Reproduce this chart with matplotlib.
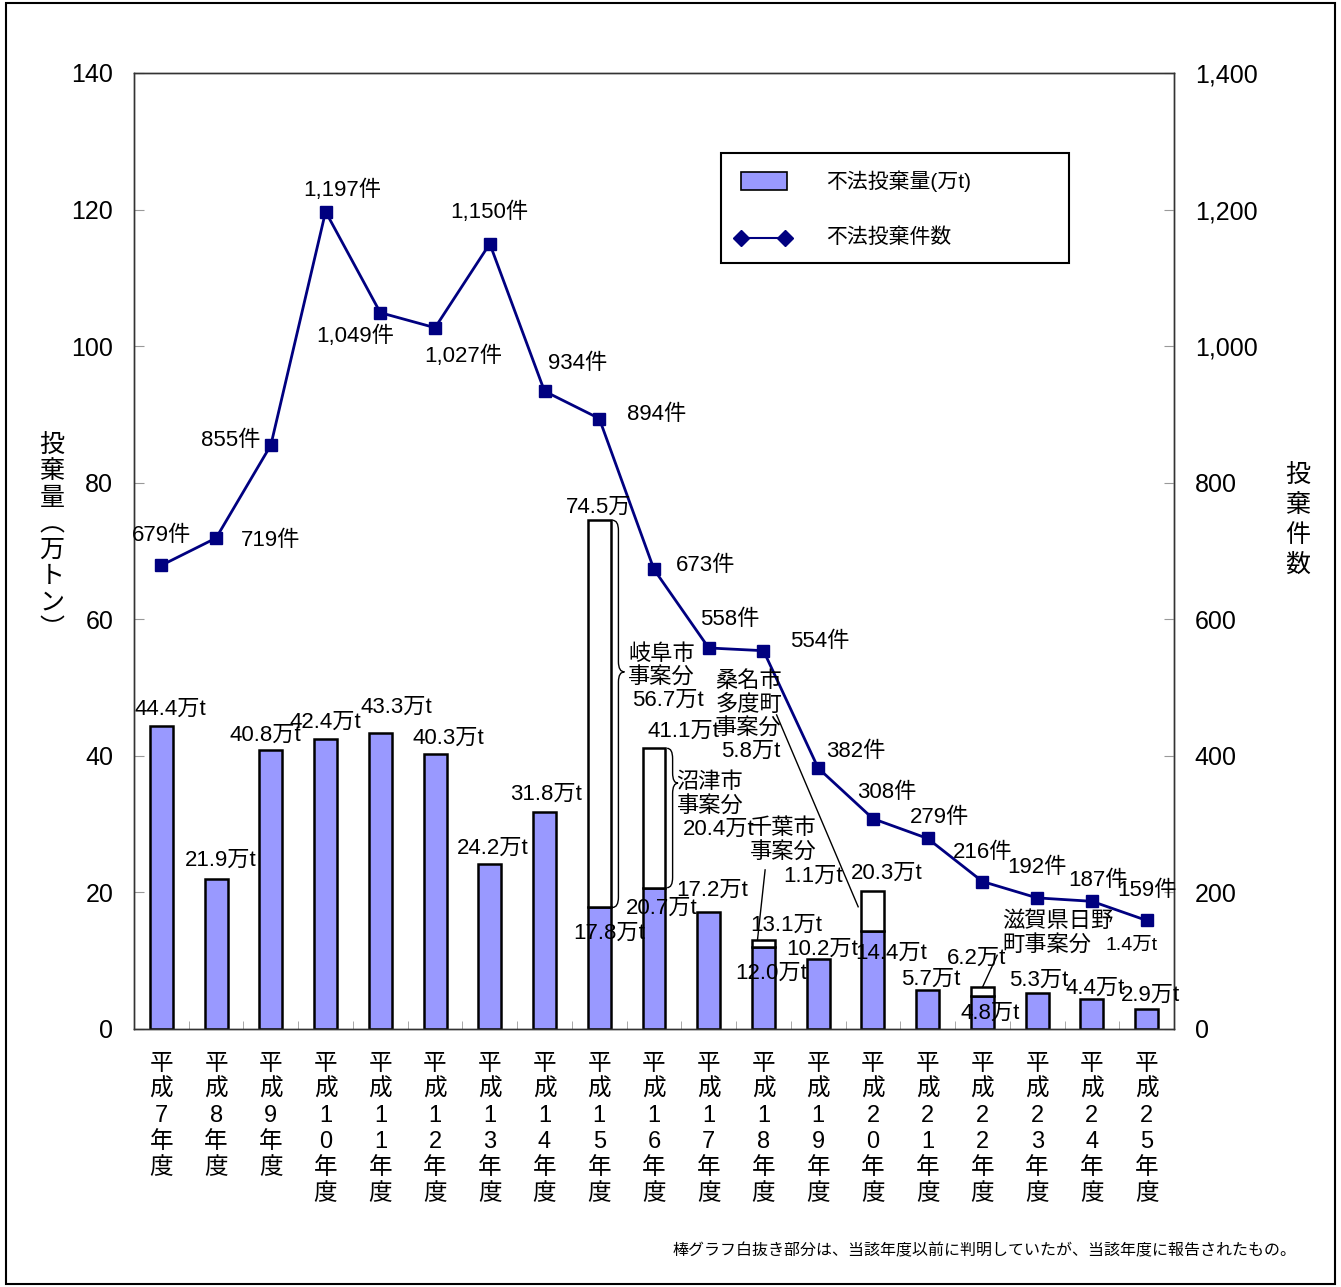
import numpy as np
import matplotlib
matplotlib.use('Agg')
import matplotlib.pyplot as plt
from matplotlib.patches import Rectangle, PathPatch
from matplotlib.path import Path
from matplotlib.lines import Line2D

plt.rcParams['font.family'] = ['Liberation Sans', 'Noto Sans CJK JP']

years = ['7', '8', '9', '10', '11', '12', '13', '14', '15', '16',
         '17', '18', '19', '20', '21', '22', '23', '24', '25']
amount = [44.4, 21.9, 40.8, 42.4, 43.3, 40.3, 24.2, 31.8, 17.8, 20.7,
          17.2, 12.0, 10.2, 14.4, 5.7, 4.8, 5.3, 4.4, 2.9]
amount_late = [0, 0, 0, 0, 0, 0, 0, 0, 56.7, 20.4,
               0, 1.1, 0, 5.8, 0, 1.4, 0, 0, 0]
cases = [679, 719, 855, 1197, 1049, 1027, 1150, 934, 894, 673,
         558, 554, 382, 308, 279, 216, 192, 187, 159]

bar_color = '#9999ff'
line_color = '#000080'

fig = plt.figure(figsize=(13.41, 12.87), dpi=100)
ax = fig.add_axes([134 / 1341, 1 - 1029 / 1287, 1040 / 1341, 956 / 1287])
ax2 = ax.twinx()

x = np.arange(len(years))
ax.bar(x, amount, width=0.42, color=bar_color, edgecolor='black', linewidth=1.8, zorder=2)
ax.bar(x, amount_late, width=0.42, bottom=amount, color='white', edgecolor='black',
       linewidth=1.8, zorder=2)
for i, v in enumerate(amount_late):
    if v == 0:
        # hide empty stacked bars
        ax.patches[len(years) + i].set_visible(False)

ax2.plot(x, cases, color=line_color, lw=2, marker='s', ms=8, zorder=3)

ax.set_xlim(-0.5, len(years) - 0.5)
ax.set_ylim(0, 140)
ax2.set_ylim(0, 1400)
ax.set_yticks(range(0, 141, 20))
ax2.set_yticks(range(0, 1401, 200))
ax2.set_yticklabels([f'{v:,}' for v in range(0, 1401, 200)])

xlabels = ['平\n成\n' + '\n'.join(y) + '\n年\n度' for y in years]
ax.set_xticks(x)
ax.set_xticklabels(xlabels, fontsize=17, va='top', linespacing=1.24)
ax.set_xticks(np.arange(-0.5, len(years), 1), minor=True)
ax.tick_params(axis='x', which='major', length=0, pad=17)
ax.tick_params(axis='x', which='minor', direction='in', length=6, color='#999999')
ax.tick_params(axis='y', direction='in', length=7, color='#999999', labelsize=18, pad=15)
ax2.tick_params(axis='y', direction='in', length=7, color='#999999', labelsize=18, pad=15)
for a in (ax, ax2):
    for s in a.spines.values():
        s.set_color('#333333')
        s.set_linewidth(1.0)

fig.text(52 / 1341, 1 - 537 / 1287, '投\n棄\n量\n︵\n万\nト\nン\n︶', fontsize=18,
         ha='center', va='center', linespacing=1.12)
fig.text(1298 / 1341, 1 - 520 / 1287, '投\n棄\n件\n数', fontsize=18,
         ha='center', va='center', linespacing=1.3)

T = ax.transData
fs = 16


def lab(xp, yp, s, **kw):
    kw.setdefault('ha', 'center')
    kw.setdefault('va', 'center')
    kw.setdefault('fontsize', fs)
    ax2.text(xp, yp, s, transform=T, **kw)


# case count labels
case_pos = [(0, 72.3), (1.99, 71.6), (1.26, 86.2), (3.31, 122.8), (3.54, 101.5),
            (5.52, 98.5), (5.99, 119.6), (7.6, 97.5), (9.04, 90.0), (9.94, 67.9),
            (10.38, 59.9), (12.02, 56.7), (12.68, 40.6), (13.26, 34.6), (14.21, 30.9),
            (15.0, 25.9), (15.99, 23.7), (17.12, 21.8), (18.01, 20.3)]
for i, (px, py) in enumerate(case_pos):
    lab(px, py, f'{cases[i]:,}件')

# amount labels
amt_pos = [(0.16, 46.8), (1.08, 24.7), (1.9, 43.0), (3.0, 44.9), (4.29, 47.1),
           (5.24, 42.6), (6.05, 26.5), (7.02, 34.3), (8.18, 14.05), (9.15, 17.7),
           (10.07, 20.3), (11.14, 8.2), (12.08, 11.6), (13.34, 11.1), (14.05, 7.3),
           (15.14, 2.3), (16.02, 7.2), (17.06, 6.0), (18.07, 5.0)]
for i, (px, py) in enumerate(amt_pos):
    lab(px, py, f'{amount[i]:.1f}万t')

totals = [a + b for a, b in zip(amount, amount_late)]
lab(7.98, 76.4, f'{totals[8]:.1f}万')
lab(9.53, 43.6, f'{totals[9]:.1f}万t')
lab(11.42, 15.2, f'{totals[11]:.1f}万t')
lab(13.26, 22.8, '20.3万t')
lab(14.9, 10.4, f'{totals[15]:.1f}万t')

# case notes
lab(8.53, 53.2, '岐阜市\n事案分', ha='left', linespacing=1.15)
lab(9.26, 48.2, f'{amount_late[8]:.1f}万t')
lab(9.41, 34.4, '沼津市\n事案分', ha='left', linespacing=1.15)
lab(10.18, 29.3, f'{amount_late[9]:.1f}万t')
lab(11.36, 27.6, '千葉市\n事案分', linespacing=1.15)
lab(11.91, 22.3, f'{amount_late[11]:.1f}万t')
lab(10.12, 47.4, '桑名市\n多度町\n事案分', ha='left', linespacing=1.15)
lab(10.76, 40.7, f'{amount_late[13]:.1f}万t')
lab(15.36, 15.7, '滋賀県日野', ha='left')
lab(15.36, 12.3, '町事案分', ha='left')
lab(17.24, 12.2, f'{amount_late[15]:.1f}万t', ha='left', fontsize=14)

for (x0, y0, x1, y1) in [(11.03, 23.3, 10.89, 13.0), (11.24, 46.0, 12.73, 17.9),
                         (15.27, 10.8, 15.0, 6.1)]:
    ax2.add_line(Line2D([x0, x1], [y0, y1], transform=T, color='black', lw=1))


def brace(x0, w, ytop, ybot, ytip):
    xm = x0 + w / 2
    r = 1.5
    verts = [(x0, ytop), (xm, ytop), (xm, ytop - r),
             (xm, ytip + r), (xm, ytip), (x0 + w, ytip),
             (xm, ytip), (xm, ytip - r),
             (xm, ybot + r), (xm, ybot), (x0, ybot)]
    codes = [Path.MOVETO, Path.CURVE3, Path.CURVE3,
             Path.LINETO, Path.CURVE3, Path.CURVE3,
             Path.CURVE3, Path.CURVE3,
             Path.LINETO, Path.CURVE3, Path.CURVE3]
    ax2.add_patch(PathPatch(Path(verts, codes), transform=T, fill=False, lw=1, color='black'))


brace(8.24, 0.22, totals[8], amount[8], 52.3)
brace(9.24, 0.2, totals[9], amount[9], 36.0)

# legend drawn by hand
AT = ax.transAxes
ax2.add_patch(Rectangle((0.5644, 0.801), 0.3346, 0.115, transform=AT, fill=True,
                        facecolor='white', edgecolor='black', lw=1.5, zorder=5))
ax2.add_patch(Rectangle(((741 - 134) / 1040, (1029 - 190) / 956), 46 / 1040, 18 / 956,
                        transform=AT, facecolor=bar_color, edgecolor='black', lw=1.2, zorder=6))
ax2.add_line(Line2D([(741 - 134) / 1040, (785 - 134) / 1040], [(1029 - 238) / 956] * 2,
                    transform=AT, color=line_color, lw=1.5, marker='D', ms=8, zorder=6))
ax2.text((826 - 134) / 1040, (1029 - 181) / 956, '不法投棄量(万t)', transform=AT,
         fontsize=15, va='center', zorder=7)
ax2.text((826 - 134) / 1040, (1029 - 237) / 956, '不法投棄件数', transform=AT,
         fontsize=15, va='center', zorder=7)

fig.text(1297 / 1341, 1 - 1251 / 1287,
         '棒グラフ白抜き部分は、当該年度以前に判明していたが、当該年度に報告されたもの。',
         fontsize=11.5, ha='right', va='center')

fig.patches.append(Rectangle((6 / 1341, 3 / 1287), 1329 / 1341, 1281 / 1287,
                             transform=fig.transFigure, fill=False, edgecolor='black', lw=1.5))

fig.savefig('out.png', dpi=100)
